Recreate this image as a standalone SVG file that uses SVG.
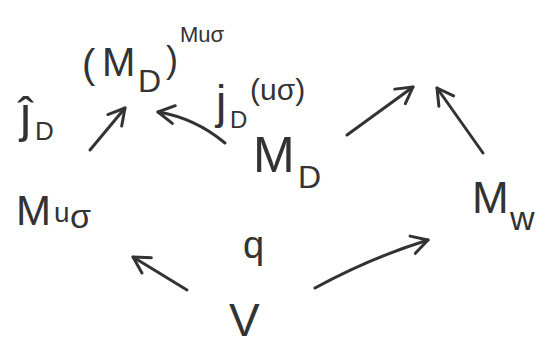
<svg xmlns="http://www.w3.org/2000/svg" width="548" height="348" viewBox="0 0 548 348">
<defs>
<style>
.t{font-family:"Liberation Sans","DejaVu Sans",sans-serif;fill:#333;}
.c{fill:none;stroke:#333;stroke-width:3;stroke-linecap:round;}
</style>
<marker id="ah" markerUnits="userSpaceOnUse" markerWidth="24" markerHeight="24" refX="20" refY="12" orient="auto">
<path d="M4,3 L20,12 L4,21" fill="none" stroke="#333" stroke-width="3" stroke-linecap="round" stroke-linejoin="round"/>
</marker>
</defs>
<rect width="548" height="348" fill="#fff"/>
<g id="MD_pow">
<text class="t" x="82" y="78" font-size="40">(</text>
<text class="t" x="102" y="76" font-size="40">M</text>
<text class="t" x="138" y="92" font-size="32">D</text>
<text class="t" x="166" y="72" font-size="36">)</text>
<text class="t" x="180" y="42" font-size="22">Muσ</text>
</g>
<g id="jD_hat">
<text class="t" x="20" y="132" font-size="50">ĵ</text>
<text class="t" x="35" y="140" font-size="26">D</text>
</g>
<g id="jD_us">
<text class="t" x="216" y="118" font-size="46">j</text>
<text class="t" x="230" y="128" font-size="24">D</text>
<text class="t" x="250" y="100" font-size="30">(uσ)</text>
</g>
<g id="MD">
<text class="t" x="253" y="172" font-size="50">M</text>
<text class="t" x="298" y="188" font-size="32">D</text>
</g>
<g id="Mus">
<text class="t" x="16" y="225" font-size="42">M</text>
<text class="t" x="54" y="222" font-size="28">u</text>
<text class="t" x="70" y="228" font-size="34">σ</text>
</g>
<g id="Mw">
<text class="t" x="472" y="213" font-size="44">M</text>
<text class="t" x="510" y="230" font-size="34">w</text>
</g>
<g id="V">
<text class="t" x="229" y="336" font-size="46">V</text>
</g>
<g id="q">
<text class="t" x="243" y="258" font-size="38">q</text>
</g>
<g id="connectors">
<path class="c" d="M90,150 L125,108" marker-end="url(#ah)"/>
<path class="c" d="M225,143 Q195,118 158,112" marker-end="url(#ah)"/>
<path class="c" d="M347,135 L413,87" marker-end="url(#ah)"/>
<path class="c" d="M483,153 L437,88" marker-end="url(#ah)"/>
<path class="c" d="M187,290 L133,257" marker-end="url(#ah)"/>
<path class="c" d="M315,288 Q370,258 428,240" marker-end="url(#ah)"/>
</g>
</svg>
